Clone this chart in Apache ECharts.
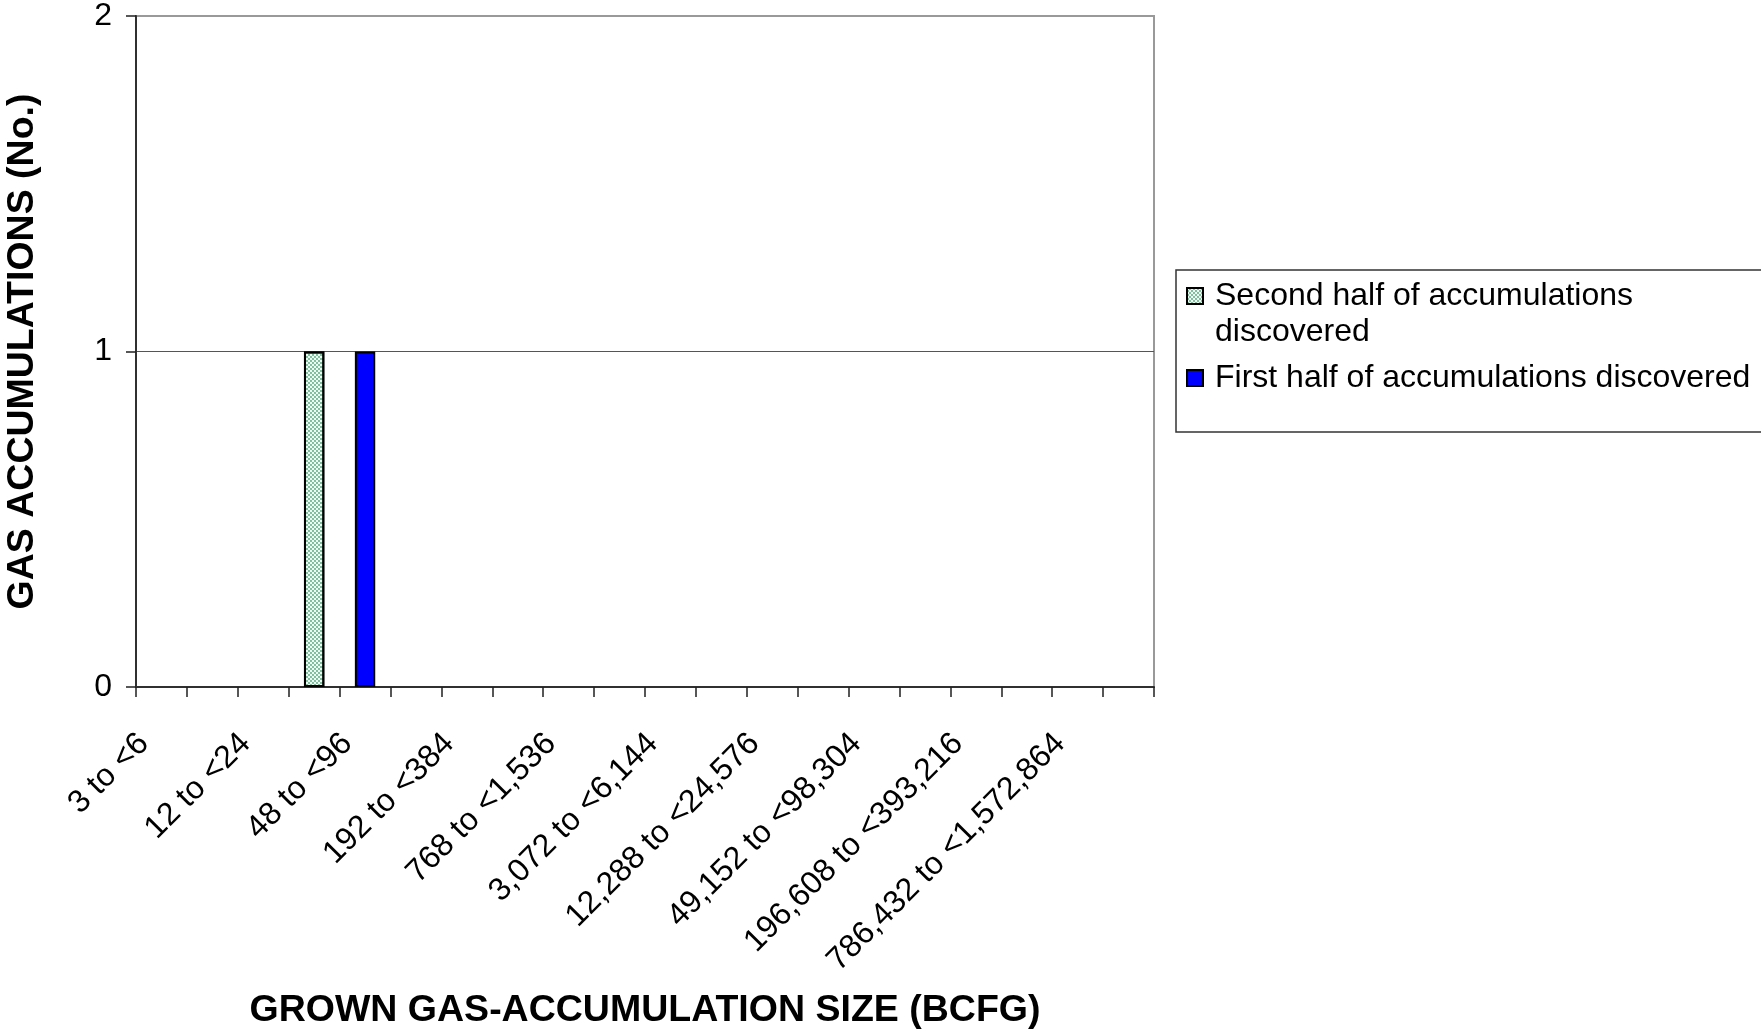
<!DOCTYPE html>
<html>
<head>
<meta charset="utf-8">
<script src="https://cdn.jsdelivr.net/npm/echarts@6/dist/echarts.min.js"></script>
<style>
  html, body { margin: 0; padding: 0; background: #ffffff; }
  #chart { width: 1761px; height: 1029px; }
</style>
</head>
<body>
<div id="chart"></div>
<script>
const categories = [
  '3 to <6', '6 to <12', '12 to <24', '24 to <48', '48 to <96', '96 to <192',
  '192 to <384', '384 to <768', '768 to <1,536', '1,536 to <3,072',
  '3,072 to <6,144', '6,144 to <12,288', '12,288 to <24,576', '24,576 to <49,152',
  '49,152 to <98,304', '98,304 to <196,608', '196,608 to <393,216',
  '393,216 to <786,432', '786,432 to <1,572,864', '1,572,864 to <3,145,728'
];
const secondHalf = [0, 0, 0, 1, 0, 0, 0, 0, 0, 0, 0, 0, 0, 0, 0, 0, 0, 0, 0, 0];
const firstHalf  = [0, 0, 0, 0, 1, 0, 0, 0, 0, 0, 0, 0, 0, 0, 0, 0, 0, 0, 0, 0];
const yTicks = [0, 1, 2];
const seriesNames = ['Second half of accumulations discovered', 'First half of accumulations discovered'];
const xTitle = 'GROWN GAS-ACCUMULATION SIZE (BCFG)';
const yTitle = 'GAS ACCUMULATIONS (No.)';

// zero counts draw no bar (avoid zero-height outlines on the axis)
const toBars = arr => arr.map(v => (v === 0 ? '-' : v));

const FONT = '"Liberation Sans", Arial, sans-serif';
const chart = echarts.init(document.getElementById('chart'), null, { renderer: 'canvas' });

chart.setOption({
  animation: false,
  backgroundColor: '#ffffff',
  textStyle: { fontFamily: FONT },
  grid: {
    left: 136, right: 607, top: 16, bottom: 342,
    containLabel: false,
    outerBoundsMode: 'none',
    show: true, borderColor: '#999999', borderWidth: 2, backgroundColor: 'transparent'
  },
  legend: {
    orient: 'vertical',
    left: 1186,
    top: 242,
    padding: 0,
    itemWidth: 16,
    itemHeight: 16,
    itemGap: 10,
    icon: 'rect',
    data: seriesNames,
    textStyle: { fontSize: 32, lineHeight: 36, color: '#000', fontFamily: FONT, padding: [0, 0, 0, 7] },
    formatter: function (name) {
      if (name === seriesNames[0]) return '\nSecond half of accumulations\ndiscovered';
      return name;
    }
  },
  graphic: [{
    type: 'rect',
    shape: { x: 1176, y: 270, width: 700, height: 162 },
    style: { fill: 'none', stroke: '#333333', lineWidth: 1.5 },
    silent: true
  }],
  xAxis: {
    type: 'category',
    data: categories,
    boundaryGap: true,
    name: xTitle,
    nameLocation: 'middle',
    nameGap: 305,
    nameTextStyle: { fontSize: 37.5, fontWeight: 'bold', color: '#000', fontFamily: FONT },
    axisLine: { show: true, lineStyle: { color: '#303030', width: 2 } },
    axisTick: { show: true, interval: 0, length: 10, lineStyle: { color: '#202020', width: 1.5 } },
    axisLabel: {
      interval: 1, rotate: 45, margin: 34, fontSize: 32, color: '#000',
      fontFamily: FONT, padding: [0, 25, 0, 0]
    },
    splitLine: { show: false }
  },
  yAxis: {
    type: 'value',
    min: 0, max: 2, interval: 1,
    name: yTitle,
    nameLocation: 'middle',
    nameGap: 94,
    nameTextStyle: { fontSize: 37.5, fontWeight: 'bold', color: '#000', fontFamily: FONT },
    axisLine: { show: true, lineStyle: { color: '#303030', width: 2 } },
    axisTick: { show: true, length: 10, lineStyle: { color: '#202020', width: 1.5 } },
    axisLabel: {
      margin: 24, fontSize: 32, color: '#000', fontFamily: FONT,
      formatter: function (v) { return yTicks.indexOf(v) >= 0 ? String(v) : ''; }
    },
    splitLine: { show: true, showMinLine: false, showMaxLine: false, lineStyle: { color: '#555555', width: 1 } }
  },
  series: [
    {
      name: seriesNames[0],
      type: 'bar',
      stack: 'total',
      barWidth: '40%',
      data: toBars(secondHalf),
      itemStyle: {
        color: '#f2f9f4',
        borderColor: '#000',
        borderWidth: 2,
        decal: {
          symbol: 'circle',
          symbolSize: 0.9,
          color: '#45a876',
          dashArrayX: [[2, 2], [0, 2, 2, 0]],
          dashArrayY: [2, 0],
          rotation: 0
        }
      }
    },
    {
      name: seriesNames[1],
      type: 'bar',
      stack: 'total',
      barWidth: '40%',
      data: toBars(firstHalf),
      itemStyle: { color: '#0000ff', borderColor: '#000', borderWidth: 2 }
    }
  ]
});
</script>
</body>
</html>
